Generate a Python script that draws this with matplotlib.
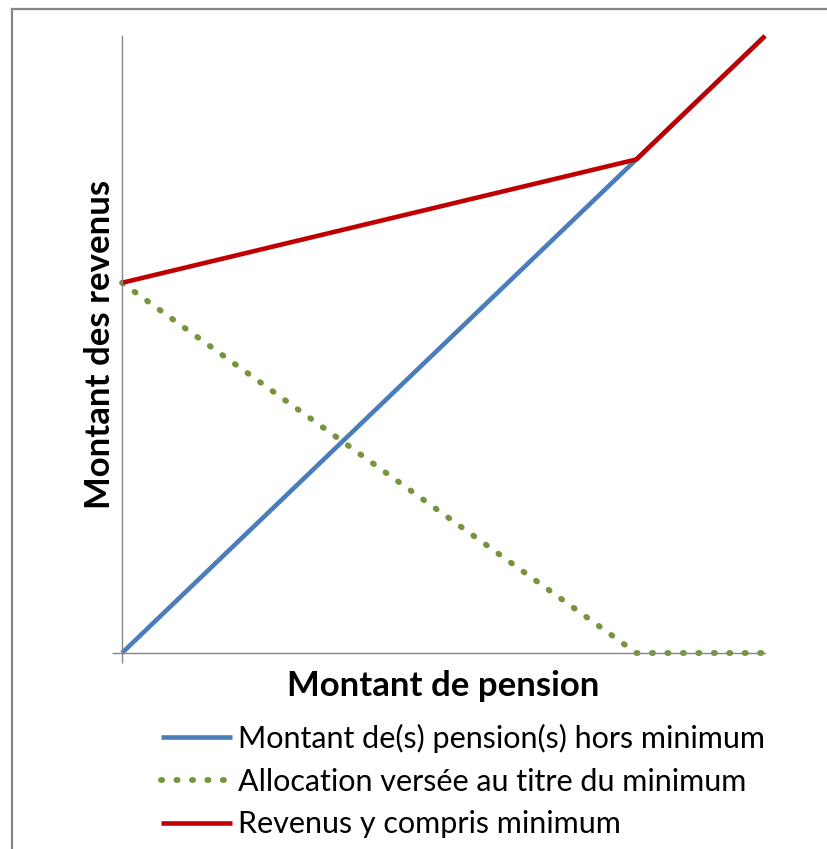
import matplotlib.pyplot as plt
from matplotlib.lines import Line2D

plt.rcParams['font.family'] = ['Lato', 'DejaVu Sans']

# pension amount (x) and the three curves
x = [0, 4, 5]
pension = [0, 4, 5]
allocation = [3, 0, 0]
revenus = [3, 4, 5]

labels = ['Montant de(s) pension(s) hors minimum',
          'Allocation versée au titre du minimum',
          'Revenus y compris minimum']
xlabel = 'Montant de pension'
ylabel = 'Montant des revenus'

blue = '#4A7EBB'
green = '#77933C'
red = '#C00000'
grey = '#868686'

W, H = 828, 849
fig = plt.figure(figsize=(W / 100, H / 100), dpi=100)
ax = fig.add_axes([122 / W, 1 - 653 / H, (765 - 122) / W, (653 - 36) / H])

lw = 3.3
ax.plot(x, pension, color=blue, lw=lw, clip_on=False, solid_capstyle='butt', label=labels[0])
ax.plot(x, allocation, color=green, lw=4.2, clip_on=False,
        linestyle=(0, (0.2, 2.45)), dash_capstyle='round', label=labels[1])
ax.plot(x, revenus, color=red, lw=lw, clip_on=False, solid_capstyle='butt', label=labels[2])

ax.set_xlim(0, 5)
ax.set_ylim(0, 5)
for side in ['top', 'right']:
    ax.spines[side].set_visible(False)
for side in ['left', 'bottom']:
    ax.spines[side].set_color(grey)
    ax.spines[side].set_linewidth(1.0)
ax.set_xticks([0])
ax.set_yticks([0])
ax.tick_params(length=7, width=1.0, color=grey, labelbottom=False, labelleft=False)

ax.set_xlabel(xlabel, fontsize=25, fontweight='bold', labelpad=5)
ax.set_ylabel(ylabel, fontsize=25, fontweight='bold', labelpad=-3)

handles, _ = ax.get_legend_handles_labels()
fig.legend(handles, labels, loc='upper left', bbox_to_anchor=(161 / W, 1 - 724 / H),
           frameon=False, fontsize=22, handlelength=2.32, handletextpad=0.2,
           labelspacing=0.48, borderpad=0, borderaxespad=0)

# outer chart frame (only top and left visible in the crop)
fig.add_artist(Line2D([12 / W, 1], [1 - 9 / H, 1 - 9 / H], color=grey, lw=1.6))
fig.add_artist(Line2D([12 / W, 12 / W], [0, 1 - 9 / H], color=grey, lw=1.6))

fig.savefig('out.png', dpi=100)
